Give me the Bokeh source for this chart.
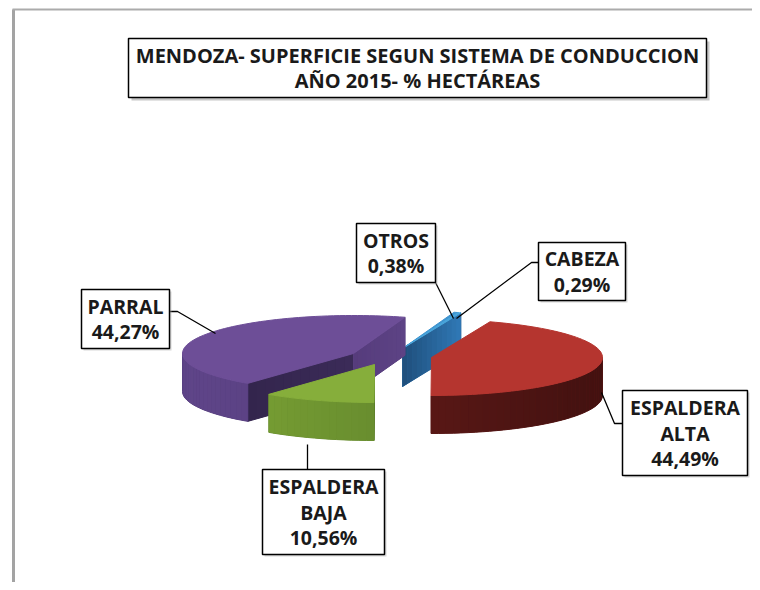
import math
from bokeh.plotting import figure
from bokeh.models import Range1d, ColumnDataSource
from bokeh.embed import file_html
from bokeh.resources import INLINE
from bokeh.core.properties import value

# ---------------- data ----------------
title_lines = ["MENDOZA- SUPERFICIE SEGUN SISTEMA DE CONDUCCION", "AÑO 2015- % HECTÁREAS"]
names = ["ESPALDERA ALTA", "ESPALDERA BAJA", "PARRAL", "OTROS", "CABEZA"]
values = [44.49, 10.56, 44.27, 0.38, 0.29]

# ---------------- style / layout ----------------
FONT = "Open Sans"
W, H = 752, 582
START_ANGLE = 70.0          # first slice angle (deg, ccw from 3 o'clock); slices go clockwise
RX, RY, DEPTH = 171.0, 38.0, 38.0
CENTER = (395.0, 353.0)
explode = {"ESPALDERA ALTA": (36, 4), "ESPALDERA BAJA": (-21, 11), "PARRAL": (-42, 0),
           "OTROS": (7, -5), "CABEZA": (7, -5)}
palette = {
    "ESPALDERA ALTA": dict(top="#B5352F", wall=("#6E1E1B", "#421110"), cut=("#5A1714", "#4A1311")),
    "ESPALDERA BAJA": dict(top="#86AE3B", wall=("#7CA434", "#55762A"), cut=("#5E8030", "#4F6C28")),
    "PARRAL": dict(top="#6D4E97", wall=("#5F4589", "#4E3773"), cut=("#3B2B58", "#33254D"),
                   cut_end=("#563C7C", "#5D4385")),
    "OTROS": dict(top="#3E93CF", wall=("#2A6399", "#2A6399"), cut=("#1F4D7A", "#2F75B2")),
    "CABEZA": dict(top="#4AA6DC", wall=("#2E6CA6", "#2E6CA6"), cut=("#1F4E7B", "#3079B6")),
}
label_boxes = {  # left, right, top, bottom (pixels)
    "OTROS": (356, 435, 223, 282),
    "CABEZA": (538, 625, 242, 300),
    "PARRAL": (81, 169, 289, 348),
    "ESPALDERA ALTA": (622, 747, 390, 475),
    "ESPALDERA BAJA": (262, 384, 469, 554),
}
leaders = {
    "OTROS": ([435, 453], [282, 318]),
    "CABEZA": ([538, 531, 456], [262, 262, 318]),
    "PARRAL": ([169, 177, 215], [311, 311, 333]),
    "ESPALDERA ALTA": ([622, 614, 601], [423, 423, 392]),
    "ESPALDERA BAJA": ([307, 307], [469, 444]),
}
LINE_H = 25.5
LABEL_SIZE = "19.5px"
TITLE_SIZE = "20px"


def hex2rgb(h):
    h = h.lstrip("#")
    return tuple(int(h[i:i + 2], 16) for i in (0, 2, 4))


def lerp(c1, c2, t):
    a, b = hex2rgb(c1), hex2rgb(c2)
    t = min(max(t, 0.0), 1.0)
    return "#%02x%02x%02x" % tuple(int(round(a[k] + (b[k] - a[k]) * t)) for k in range(3))


def ell(cx, cy, a):
    r = math.radians(a)
    return cx + RX * math.cos(r), cy - RY * math.sin(r)


# slice angles from the values
slices = []
acc = START_ANGLE
for n, v in zip(names, values):
    a0 = acc
    a1 = acc - 3.6 * v
    acc = a1
    dx, dy = explode[n]
    slices.append(dict(name=n, a0=a0, a1=a1, cx=CENTER[0] + dx, cy=CENTER[1] + dy))

# draw back to front
order = sorted(slices, key=lambda s: s["cy"])

xs, ys, fills, lws = [], [], [], []


def add(px, py, c, lw=0.0):
    xs.append(list(px)); ys.append(list(py)); fills.append(c); lws.append(lw)


for s in order:
    cx, cy, a0, a1 = s["cx"], s["cy"], s["a0"], s["a1"]
    pal = palette[s["name"]]
    # visible cut faces
    faces = []
    if math.cos(math.radians(a0)) < -1e-6:
        faces.append((a0, pal["cut"]))
    if math.cos(math.radians(a1)) > 1e-6:
        faces.append((a1, pal.get("cut_end", pal["cut"])))
    for a, (c1, c2) in faces:
        ex, ey = ell(cx, cy, a)
        add([cx, ex, ex, cx], [cy, ey, ey + DEPTH, cy + DEPTH], lerp(c1, c2, 0.5), 1.0)
        n = 12
        for k in range(n):
            t0, t1 = k / n, (k + 1) / n
            xa, ya = cx + (ex - cx) * t0, cy + (ey - cy) * t0
            xb, yb = cx + (ex - cx) * t1, cy + (ey - cy) * t1
            add([xa, xb, xb, xa], [ya, yb, yb + DEPTH, ya + DEPTH], lerp(c1, c2, (t0 + t1) / 2))
    # outer wall (front half)
    for k in range(-2, 3):
        lo = max(a1, -180 + 360 * k)
        hi = min(a0, 360 * k)
        if hi - lo > 1e-6:
            steps = max(2, int((hi - lo) / 2.5))
            angs = [hi - (hi - lo) * j / steps for j in range(steps + 1)]
            top = [ell(cx, cy, a) for a in angs]
            bx = [q[0] for q in top] + [q[0] for q in reversed(top)]
            by = [q[1] for q in top] + [q[1] + DEPTH for q in reversed(top)]
            add(bx, by, lerp(pal["wall"][0], pal["wall"][1], 0.5), 1.0)
            for j in range(steps):
                x0, y0 = top[j]
                x1, y1 = top[j + 1]
                t = ((x0 + x1) / 2 - (cx - RX)) / (2 * RX)
                add([x0, x1, x1, x0], [y0, y1, y1 + DEPTH, y0 + DEPTH],
                    lerp(pal["wall"][0], pal["wall"][1], t))
    # top face
    steps = max(2, int((a0 - a1) / 2))
    px, py = [cx], [cy]
    for j in range(steps + 1):
        x, y = ell(cx, cy, a0 - (a0 - a1) * j / steps)
        px.append(x); py.append(y)
    add(px, py, pal["top"], 1.0)

p = figure(width=W, height=H, output_backend="svg", toolbar_location=None,
           x_range=Range1d(0, W), y_range=Range1d(H, 0), min_border=0)
p.axis.visible = False
p.grid.visible = False
p.outline_line_color = None
p.background_fill_color = "white"
p.border_fill_color = "white"

# chart frame (top and left edges visible)
p.line([13, 13], [9, 600], line_color="#a3a3a3", line_width=3)
p.line([12, 770], [9, 9], line_color="#ababab", line_width=2)

# title box
TB = (128, 706, 38, 97)
p.quad(left=TB[0] + 3, right=TB[1] + 3, top=TB[2] + 3, bottom=TB[3] + 3,
       fill_color="#9a9a9a", fill_alpha=0.55, line_color=None)
p.quad(left=TB[0], right=TB[1], top=TB[2], bottom=TB[3],
       fill_color="white", line_color="black", line_width=1.5)
tx = (TB[0] + TB[1]) / 2
p.text(x=[tx, tx], y=[55, 80], text=title_lines, text_font=value(FONT), text_font_style="bold",
       text_font_size=TITLE_SIZE, text_align="center", text_baseline="middle", text_color="#1a1a1a")

# pie
src = ColumnDataSource(dict(xs=xs, ys=ys, fill=fills, lw=lws))
p.patches("xs", "ys", source=src, fill_color="fill", line_color="fill", line_width="lw")

# leaders
for n in names:
    lx, ly = leaders[n]
    p.line(lx, ly, line_color="black", line_width=1.3)

# labels
for n, v in zip(names, values):
    l, r, t, b = label_boxes[n]
    p.quad(left=l + 2, right=r + 2, top=t + 2, bottom=b + 2, fill_color="#b0b0b0", fill_alpha=0.5,
           line_color=None)
    p.quad(left=l, right=r, top=t, bottom=b, fill_color="white", line_color="black", line_width=1.5)
    lines = n.split(" ") + [("%.2f%%" % v).replace(".", ",")]
    cyl = (t + b) / 2
    ys_ = [cyl + (k - (len(lines) - 1) / 2) * LINE_H for k in range(len(lines))]
    p.text(x=[(l + r) / 2] * len(lines), y=ys_, text=lines, text_font=value(FONT),
           text_font_style="bold", text_font_size=LABEL_SIZE, text_align="center",
           text_baseline="middle", text_color="#1a1a1a")

open("out.html", "w").write(file_html(p, INLINE))
